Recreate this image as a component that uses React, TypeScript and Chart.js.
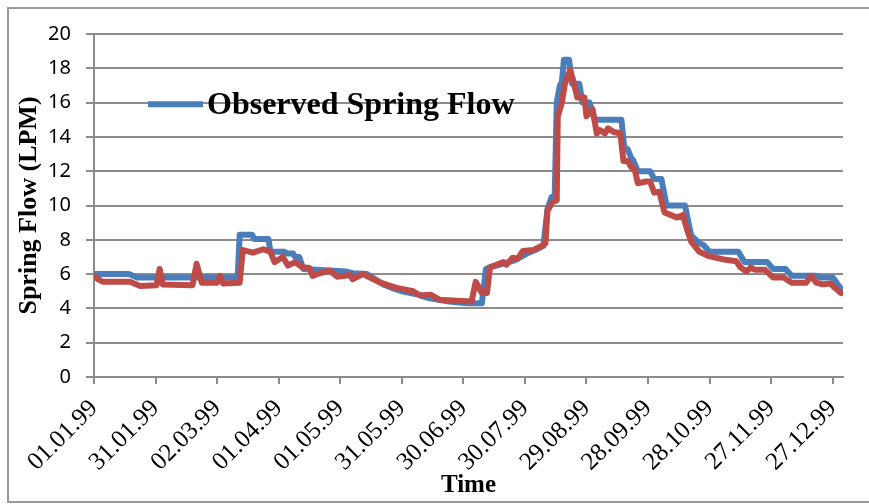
import { useEffect, useRef } from 'react';
import { Chart, registerables } from 'chart.js';

Chart.register(...registerables);

const OBS_LABEL = 'Observed Spring Flow';
const SIM_LABEL = 'Simulated Spring Flow';

const OBS_DAYS = [0, 17, 21, 70, 71, 77, 78, 85, 86, 93, 94, 97, 98, 100, 102, 123, 126, 133, 137, 141, 145, 150, 158, 163, 173, 182, 189, 191, 193, 199, 205, 208, 211, 215, 219, 221, 223, 224.5, 225.5, 227, 228, 229, 231.5, 233, 236.5, 238, 241.5, 244, 257, 258.5, 260, 262, 262.5, 265, 271, 273, 276.5, 279, 288, 291, 295, 297, 300, 314, 317, 328, 331, 337, 340, 352, 354, 360, 364];
const OBS_FLOW = [6.0, 6.0, 5.8, 5.8, 8.3, 8.3, 8.05, 8.05, 7.3, 7.3, 7.2, 7.2, 7.0, 7.0, 6.3, 6.15, 6.05, 6.0, 5.7, 5.4, 5.2, 5.0, 4.8, 4.6, 4.4, 4.3, 4.3, 6.3, 6.4, 6.6, 6.8, 7.0, 7.2, 7.4, 7.65, 9.8, 10.5, 10.5, 16.0, 17.0, 17.2, 18.5, 18.5, 17.1, 17.1, 16.0, 16.0, 15.0, 15.0, 13.3, 13.3, 12.7, 12.7, 12.0, 12.0, 11.55, 11.55, 10.0, 10.0, 8.25, 7.8, 7.7, 7.3, 7.3, 6.7, 6.7, 6.3, 6.3, 5.9, 5.9, 5.8, 5.8, 5.15];

const SIM_DAYS = [0, 2, 4.5, 17.5, 22.5, 30.5, 32, 33.5, 48, 50, 52.5, 60, 61.5, 63, 71, 72.5, 77.5, 82.5, 86, 88, 92, 94.5, 98, 101.5, 105, 106.5, 110, 115, 118.5, 125, 126, 131, 134.5, 139.5, 147.5, 155.5, 159, 164, 168.5, 177, 184, 186, 189, 191.5, 193, 199.5, 201, 204, 206.5, 209, 214, 219, 220, 221, 223.5, 225.5, 226, 228, 229.5, 232, 233.5, 235.5, 239, 240, 243, 245, 246.5, 249, 250.5, 253, 256.5, 258, 260, 262, 263.5, 265, 269, 271, 273, 275.5, 278, 284, 287, 289, 291, 295, 299.5, 307, 313, 315, 318, 320, 322, 327, 331, 336, 340, 347, 349.5, 352, 355, 359, 361, 364];
const SIM_FLOW = [5.9, 5.7, 5.55, 5.55, 5.3, 5.35, 6.3, 5.4, 5.35, 6.6, 5.5, 5.5, 5.9, 5.45, 5.5, 7.4, 7.25, 7.45, 7.3, 6.7, 7.0, 6.5, 6.7, 6.4, 6.35, 5.9, 6.05, 6.2, 5.85, 5.95, 5.7, 6.0, 5.8, 5.5, 5.2, 5.0, 4.75, 4.8, 4.5, 4.45, 4.4, 5.55, 4.9, 4.9, 6.4, 6.7, 6.55, 6.95, 6.9, 7.35, 7.4, 7.7, 7.8, 9.7, 10.2, 10.3, 15.2, 16.0, 17.1, 17.9, 17.3, 16.3, 16.3, 15.2, 15.6, 14.2, 14.4, 14.2, 14.5, 14.3, 14.2, 12.6, 12.6, 12.2, 12.1, 11.3, 11.4, 11.4, 10.75, 10.8, 9.6, 9.3, 9.45, 8.6, 7.9, 7.3, 7.05, 6.85, 6.75, 6.4, 6.15, 6.4, 6.25, 6.25, 5.8, 5.8, 5.5, 5.5, 5.9, 5.5, 5.4, 5.45, 5.2, 4.9];

const TICK_DAYS = [0, 30, 60, 90, 120, 150, 180, 210, 240, 270, 300, 330, 360];
const TICK_LABELS = ['01.01.99', '31.01.99', '02.03.99', '01.04.99', '01.05.99', '31.05.99', '30.06.99', '30.07.99', '29.08.99', '28.09.99', '28.10.99', '27.11.99', '27.12.99'];

const BLUE = '#4A7EBB';
const RED = '#BE4B48';
const GRID = '#8c8c8c';
const SERIF = '"Liberation Serif", "Times New Roman", serif';
const SANS = '"Noto Sans", "Open Sans", sans-serif';

const LEGEND_VALUE = 15.9;
const LEGEND_LINE_START = 54;
const LEGEND_LINE_LEN = 55;
const LEGEND_GAP = 4;

const legendPlugin = {
  id: 'inlineLegend',
  afterDraw(chart: any) {
    const { ctx, chartArea, scales } = chart;
    const ds = chart.data.datasets[0];
    const y = scales.y.getPixelForValue(LEGEND_VALUE);
    const x0 = chartArea.left + LEGEND_LINE_START;
    ctx.save();
    ctx.strokeStyle = ds.borderColor;
    ctx.lineWidth = 6;
    ctx.lineCap = 'butt';
    ctx.beginPath();
    ctx.moveTo(x0, y);
    ctx.lineTo(x0 + LEGEND_LINE_LEN, y);
    ctx.stroke();
    ctx.fillStyle = '#000';
    ctx.font = `bold 32px ${SERIF}`;
    ctx.textAlign = 'left';
    ctx.textBaseline = 'middle';
    ctx.fillText(ds.label, x0 + LEGEND_LINE_LEN + LEGEND_GAP, y + 1.5);
    ctx.restore();
  },
};

export default function App() {
  const ref = useRef<HTMLCanvasElement | null>(null);

  useEffect(() => {
    const canvas = ref.current;
    if (!canvas) return;
    const chart = new Chart(canvas, {
      type: 'line',
      data: {
        datasets: [
          {
            label: OBS_LABEL,
            data: OBS_DAYS.map((d, i) => ({ x: d, y: OBS_FLOW[i] })),
            borderColor: BLUE,
            backgroundColor: BLUE,
            borderWidth: 6,
            pointRadius: 0,
            tension: 0,
            borderJoinStyle: 'round',
            borderCapStyle: 'round',
            order: 2,
          },
          {
            label: SIM_LABEL,
            data: SIM_DAYS.map((d, i) => ({ x: d, y: SIM_FLOW[i] })),
            borderColor: RED,
            backgroundColor: RED,
            borderWidth: 6,
            pointRadius: 0,
            tension: 0,
            borderJoinStyle: 'round',
            borderCapStyle: 'round',
            order: 1,
          },
        ],
      },
      options: {
        animation: false,
        responsive: false,
        maintainAspectRatio: false,
        layout: { padding: { left: 10, right: 26, top: 34, bottom: 2 } },
        plugins: { legend: { display: false }, tooltip: { enabled: false } },
        scales: {
          x: {
            type: 'linear',
            min: 0,
            max: 365,
            afterBuildTicks: (s: any) => {
              s.ticks = TICK_DAYS.map((v) => ({ value: v }));
            },
            afterFit: (s: any) => {
              s.height = 125;
            },
            ticks: {
              autoSkip: false,
              minRotation: 45,
              maxRotation: 45,
              padding: 10,
              color: '#000',
              font: { family: SERIF, size: 25 },
              callback: (v: any) => TICK_LABELS[TICK_DAYS.indexOf(Number(v))] ?? '',
            },
            grid: { drawOnChartArea: false, drawTicks: true, tickLength: 7, color: GRID, lineWidth: 2 },
            border: { color: GRID, width: 2 },
            title: {
              display: true,
              text: 'Time',
              color: '#000',
              font: { family: SERIF, size: 25, weight: 'bold' },
              padding: { top: 0, bottom: 1 },
            },
          },
          y: {
            min: 0,
            max: 20,
            afterFit: (s: any) => {
              s.width = 84;
            },
            ticks: { stepSize: 2, padding: 15, color: '#000', font: { family: SANS, size: 20 } },
            grid: { color: GRID, lineWidth: 2, tickLength: 8 },
            border: { color: GRID, width: 2 },
            title: {
              display: true,
              text: 'Spring Flow (LPM)',
              color: '#000',
              font: { family: SERIF, size: 26, weight: 'bold' },
              padding: { top: 4, bottom: 0 },
            },
          },
        },
      },
      plugins: [legendPlugin],
    } as any);
    return () => chart.destroy();
  }, []);

  return (
    <div style={{ position: 'fixed', left: 0, top: 0, width: 869, height: 504, background: '#fff', overflow: 'hidden' }}>
      <div
        style={{
          position: 'absolute',
          left: 7,
          top: 7,
          width: 900,
          height: 496,
          boxSizing: 'border-box',
          border: '2px solid #9a9a9a',
        }}
      />
      <canvas ref={ref} width={869} height={504} style={{ position: 'absolute', left: 0, top: 0, width: 869, height: 504 }} />
    </div>
  );
}
